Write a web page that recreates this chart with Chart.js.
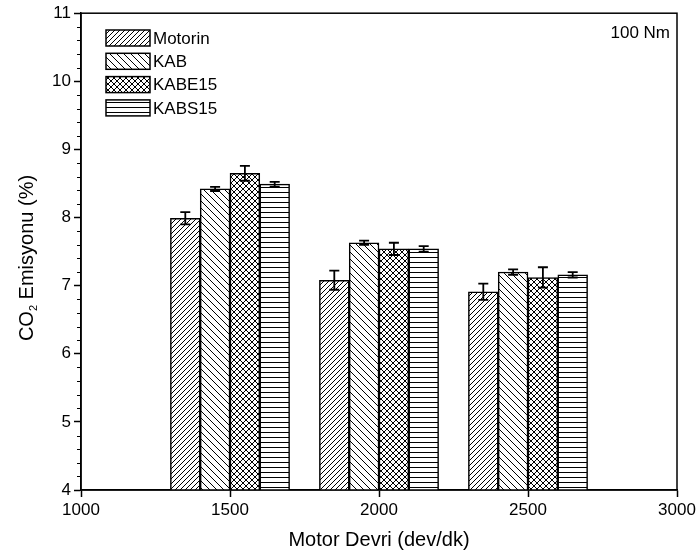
<!DOCTYPE html>
<html>
<head>
<meta charset="utf-8">
<title>CO2 Emisyonu</title>
<script src="https://cdn.jsdelivr.net/npm/chart.js@4"></script>
<style>
  body { margin: 0; background: #fff; }
  #wrap { width: 699px; height: 557px; }
</style>
</head>
<body>
<div id="wrap"><canvas id="co2-chart" width="699" height="557"></canvas></div>
<script>
"use strict";

// engine speeds (dev/dk) and the four fuels
const speeds = [1500, 2000, 2500];
const fuels = ["Motorin", "KAB", "KABE15", "KABS15"];

// CO2 emission (%) per fuel, one value per speed
const motorin = [7.99, 7.08, 6.91];
const kab = [8.42, 7.63, 7.2];
const kabe15 = [8.65, 7.54, 7.12];
const kabs15 = [8.49, 7.54, 7.16];

// error bar half-lengths
const motorinErr = [0.09, 0.14, 0.12];
const kabErr = [0.03, 0.03, 0.04];
const kabe15Err = [0.11, 0.09, 0.15];
const kabs15Err = [0.035, 0.04, 0.04];

const xTicks = [1000, 1500, 2000, 2500, 3000];
const yTicks = [4, 5, 6, 7, 8, 9, 10, 11];

const FONT = "'Liberation Sans', Arial, sans-serif";
Chart.defaults.font.family = FONT;
Chart.defaults.color = "#000";

// hatch fills
const makePattern = (size, draw) => {
  const c = document.createElement("canvas");
  c.width = c.height = size;
  const g = c.getContext("2d");
  g.fillStyle = "#fff";
  g.fillRect(0, 0, size, size);
  g.strokeStyle = "#000";
  g.lineWidth = 1;
  g.beginPath();
  draw(g, size);
  g.stroke();
  return g.createPattern(c, "repeat");
};
const forward = (g, s) => {
  g.moveTo(0, s); g.lineTo(s, 0);
  g.moveTo(-1, 1); g.lineTo(1, -1);
  g.moveTo(s - 1, s + 1); g.lineTo(s + 1, s - 1);
};
const backward = (g, s) => {
  g.moveTo(0, 0); g.lineTo(s, s);
  g.moveTo(-1, s - 1); g.lineTo(1, s + 1);
  g.moveTo(s - 1, -1); g.lineTo(s + 1, 1);
};
const patterns = [
  makePattern(5, forward),
  makePattern(7, backward),
  makePattern(6, (g, s) => { forward(g, s); backward(g, s); }),
  makePattern(5, (g, s) => { g.moveTo(0, 2.5); g.lineTo(s, 2.5); }),
];

const seriesValues = [motorin, kab, kabe15, kabs15];
const seriesErrors = [motorinErr, kabErr, kabe15Err, kabs15Err];
const groupOffset = [-150, -50, 50, 150]; // bar centres around each speed

const datasets = fuels.map((name, k) => ({
  label: name,
  data: speeds.map((s, i) => ({ x: s + groupOffset[k], y: seriesValues[k][i] })),
  errors: seriesErrors[k],
  backgroundColor: patterns[k],
  borderColor: "#000",
  borderWidth: 1.5,
  grouped: false,
  categoryPercentage: 1,
  barPercentage: 1,
}));

// error bars on top of each bar
const errorBars = {
  id: "errorBars",
  afterDatasetsDraw(chart) {
    const { ctx } = chart;
    const yScale = chart.scales.y;
    ctx.save();
    ctx.strokeStyle = "#000";
    ctx.lineWidth = 1.8;
    chart.data.datasets.forEach((ds, k) => {
      const meta = chart.getDatasetMeta(k);
      meta.data.forEach((bar, i) => {
        const v = ds.data[i].y;
        const e = ds.errors[i];
        const top = yScale.getPixelForValue(v + e);
        const bot = yScale.getPixelForValue(v - e);
        ctx.beginPath();
        ctx.moveTo(bar.x, top); ctx.lineTo(bar.x, bot);
        ctx.moveTo(bar.x - 5, top); ctx.lineTo(bar.x + 5, top);
        ctx.moveTo(bar.x - 5, bot); ctx.lineTo(bar.x + 5, bot);
        ctx.stroke();
      });
    });
    ctx.restore();
  },
};

// frame, minor ticks, y title, legend and load label
const decorations = {
  id: "decorations",
  afterDraw(chart) {
    const { ctx, chartArea: a } = chart;
    const yScale = chart.scales.y;
    ctx.save();
    ctx.strokeStyle = "#000";
    ctx.lineWidth = 1.5;
    ctx.strokeRect(a.left, a.top, a.right - a.left, a.bottom - a.top);

    // minor ticks every 0.2
    ctx.lineWidth = 1.2;
    ctx.beginPath();
    for (let v = 4; v < 11; v += 1) {
      for (let m = 1; m < 5; m++) {
        const y = Math.round(yScale.getPixelForValue(v + m * 0.2)) + 0.5;
        ctx.moveTo(a.left - 4, y); ctx.lineTo(a.left, y);
      }
    }
    ctx.stroke();

    // y axis title with subscript
    ctx.save();
    ctx.translate(27, 258);
    ctx.rotate(-Math.PI / 2);
    ctx.fillStyle = "#000";
    ctx.textBaseline = "middle";
    const big = "20px " + FONT;
    const small = "11px " + FONT;
    ctx.font = big;
    const w1 = ctx.measureText("CO").width;
    const rest = " Emisyonu (%)";
    const w3 = ctx.measureText(rest).width;
    ctx.font = small;
    const w2 = ctx.measureText("2").width;
    let x = -(w1 + w2 + w3) / 2;
    ctx.font = big;
    ctx.fillText("CO", x, 0);
    x += w1;
    ctx.font = small;
    ctx.fillText("2", x, 7);
    x += w2;
    ctx.font = big;
    ctx.fillText(rest, x, 0);
    ctx.restore();

    // legend
    ctx.fillStyle = "#fff";
    ctx.fillRect(96, 24, 142, 96);
    ctx.font = "17px " + FONT;
    ctx.textBaseline = "middle";
    ctx.lineWidth = 1.5;
    chart.data.datasets.forEach((ds, k) => {
      const cy = 38 + k * 23.3;
      ctx.fillStyle = ds.backgroundColor;
      ctx.fillRect(106, cy - 8, 44, 16);
      ctx.strokeRect(106, cy - 8, 44, 16);
      ctx.fillStyle = "#000";
      ctx.fillText(ds.label, 153, cy + 1);
    });

    ctx.font = "17px " + FONT;
    ctx.textAlign = "right";
    ctx.fillText("100 Nm", 670, 33);
    ctx.restore();
  },
};

new Chart(document.getElementById("co2-chart"), {
  type: "bar",
  data: { datasets },
  options: {
    responsive: false,
    animation: false,
    layout: { padding: { top: 11, right: 22, left: 0, bottom: 0 } },
    plugins: { legend: { display: false }, tooltip: { enabled: false } },
    scales: {
      x: {
        type: "linear",
        offset: false,
        min: xTicks[0],
        max: xTicks[xTicks.length - 1],
        afterBuildTicks: (scale) => { scale.ticks = xTicks.map((v) => ({ value: v })); },
        afterFit: (scale) => { scale.height = 67; },
        ticks: { font: { size: 17 }, padding: 3, maxRotation: 0, callback: (v) => String(v) },
        grid: { drawOnChartArea: false, offset: false, tickLength: 7, color: "#000", tickWidth: 1.5 },
        border: { color: "#000", width: 1.5 },
        title: { display: true, text: "Motor Devri (dev/dk)", font: { size: 20 }, padding: { top: 2, bottom: 5 } },
      },
      y: {
        min: yTicks[0],
        max: yTicks[yTicks.length - 1],
        afterBuildTicks: (scale) => { scale.ticks = yTicks.map((v) => ({ value: v })); },
        afterFit: (scale) => { scale.width = 81; },
        ticks: { font: { size: 17 }, padding: 3 },
        grid: { drawOnChartArea: false, tickLength: 7, color: "#000", tickWidth: 1.5 },
        border: { color: "#000", width: 1.5 },
      },
    },
  },
  plugins: [errorBars, decorations],
});
</script>
</body>
</html>
